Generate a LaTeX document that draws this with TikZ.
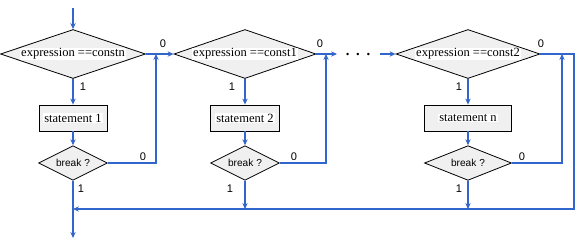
\documentclass[tikz,border=0pt]{standalone}
\usepackage{fontspec}
\setmainfont{Liberation Serif}
\setsansfont{Liberation Sans}
\usetikzlibrary{shapes.geometric,arrows.meta}
\definecolor{flow}{RGB}{51,102,204}
\definecolor{shade}{RGB}{240,240,240}
\begin{document}
\begin{tikzpicture}[x=0.75pt,y=-0.75pt,
  cond/.style={diamond,draw=black,line width=0.6pt,fill=shade,inner sep=0pt,aspect=3,
    minimum width=#1,minimum height=36.75pt},
  brk/.style={diamond,draw=black,line width=0.6pt,fill=shade,inner sep=0pt,aspect=2,
    minimum width=#1,minimum height=26pt,font=\sffamily\fontsize{7.6}{9}\selectfont},
  stmt/.style={rectangle,draw=black,line width=0.6pt,fill=shade,inner sep=0pt,
    minimum width=#1,minimum height=19.5pt},
  txt/.style={fill=white,inner sep=0.6pt,font=\fontsize{9.4}{11}\selectfont},
  lbl/.style={font=\sffamily\fontsize{8.3}{10}\selectfont,inner sep=0pt},
  flowline/.style={draw=flow,line width=0.8pt},
  arr/.style={flowline,-{Stealth[length=4.5pt,width=4pt]}}]
\useasboundingbox (0,0) rectangle (579,240);

% case 1
\node[cond=108.75pt] (d1) at (73,54) {};
\node[txt] (t1) at (d1) {expression ==constn};
\node[stmt=51pt] (s1) at (73,118) {};
\node[txt] (ts1) at (s1) {statement 1};
\node[brk=51.75pt] (b1) at (73,163) {break ?};

% case 2
\node[cond=106.5pt] (d2) at (245,54) {};
\node[txt] (t2) at (d2) {expression ==const1};
\node[stmt=51.75pt] (s2) at (245,118) {};
\node[txt] (ts2) at (s2) {statement 2};
\node[brk=51.75pt] (b2) at (245,163) {break ?};

% case n
\node[cond=108pt] (d3) at (468,54) {};
\node[txt] (t3) at (d3) {expression ==const2};
\node[stmt=65.25pt] (s3) at (468,118) {};
\node[txt] (ts3) at (s3) {statement n};
\node[brk=65.25pt] (b3) at (468,163) {break ?};

% junction points
\coordinate (in) at (73,8);
\coordinate (m1) at (156,54);
\coordinate (m2) at (326,54);
\coordinate (m3) at (562,54);
\coordinate (o2) at (337,54);
\coordinate (i3) at (380,54);
\coordinate (rt) at (574,54);
\coordinate (j1) at (73,209);
\coordinate (j2) at (245,209);
\coordinate (j3) at (468,209);
\coordinate (out) at (73,238);
\node[font=\fontsize{11}{12}\selectfont\bfseries,inner sep=0pt] (dots) at (358,55) {.\hspace{5pt}.\hspace{5pt}.};

% entry
\draw[arr] (in) -- (d1.north);

% case 1 connectors
\draw[arr] (d1.south) -- (s1.north);
\draw[arr] (s1.south) -- (b1.north);
\draw[arr] (d1.east) -- (d2.west);
\draw[arr] (b1.east) -| (m1);
\draw[arr] (b1.south) -- (out);

% case 2 connectors
\draw[arr] (d2.south) -- (s2.north);
\draw[arr] (s2.south) -- (b2.north);
\draw[arr] (d2.east) -- (o2);
\draw[arr] (b2.east) -| (m2);
\draw[arr] (b2.south) -- (j2);

% case n connectors
\draw[arr] (i3) -- (d3.west);
\draw[arr] (d3.south) -- (s3.north);
\draw[arr] (s3.south) -- (b3.north);
\draw[arr] (b3.east) -| (m3);
\draw[arr] (b3.south) -- (j3);
\draw[arr] (d3.east) -- (rt) |- (j1);

% branch labels
\node[lbl] (l1a) at (83,87) {1};
\node[lbl] (l1b) at (163,44) {0};
\node[lbl] (l1c) at (143,157) {0};
\node[lbl] (l1d) at (81,189) {1};
\node[lbl] (l2a) at (232,87) {1};
\node[lbl] (l2b) at (320,44) {0};
\node[lbl] (l2c) at (294,157) {0};
\node[lbl] (l2d) at (230,189) {1};
\node[lbl] (l3a) at (459,87) {1};
\node[lbl] (l3b) at (541,44) {0};
\node[lbl] (l3c) at (522,157) {0};
\node[lbl] (l3d) at (459,189) {1};
\end{tikzpicture}
\end{document}
